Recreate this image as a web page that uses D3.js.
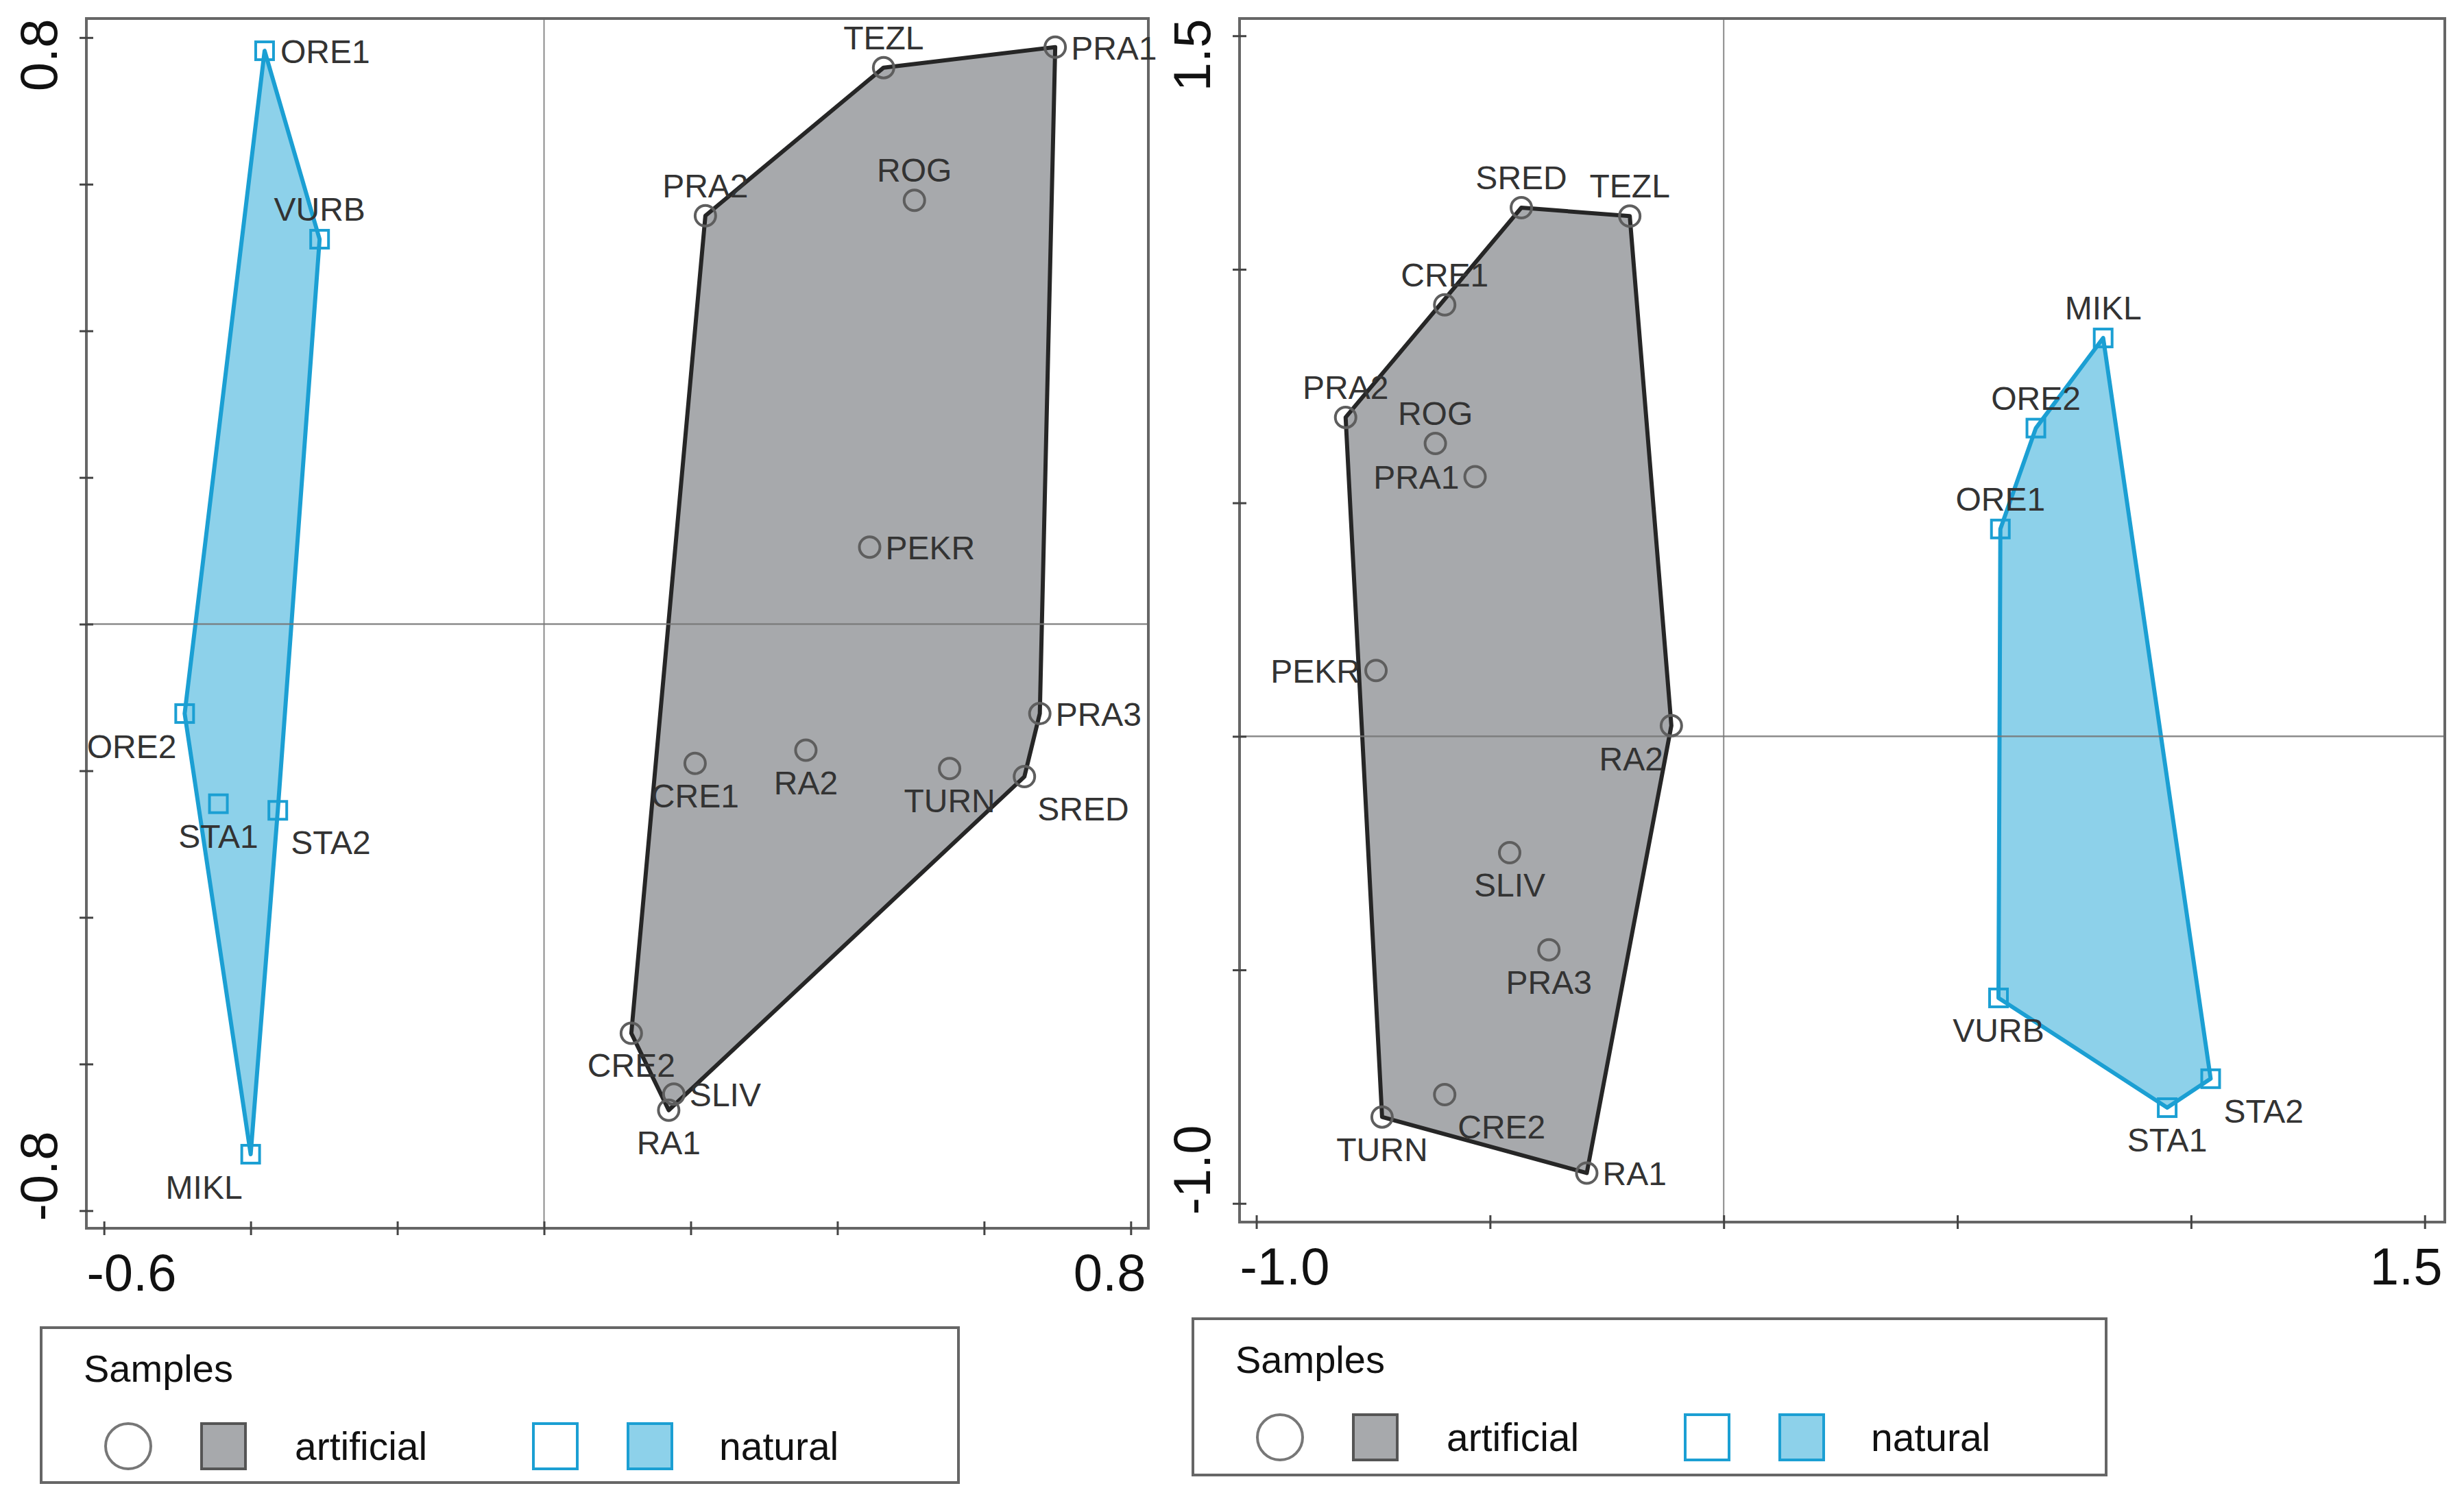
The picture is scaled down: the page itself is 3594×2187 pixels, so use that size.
<!DOCTYPE html>
<html>
<head>
<meta charset="utf-8">
<script src="https://cdn.jsdelivr.net/npm/d3@7"></script>
<style>
  body { margin: 0; background: #fff; }
  text { font-family: "Liberation Sans", Arial, sans-serif; }
</style>
</head>
<body>
<svg id="chart" width="3594" height="2187"></svg>
<script>
// left ordination (axis 1 x axis 2)
var leftArtNames = ["TEZL","PRA1","PRA2","ROG","PEKR","PRA3","CRE1","RA2","TURN","SRED","CRE2","SLIV","RA1"];
var leftArtX = [0.463, 0.697, 0.220, 0.505, 0.444, 0.676, 0.206, 0.357, 0.553, 0.655, 0.119, 0.177, 0.170];
var leftArtY = [0.759, 0.787, 0.557, 0.578, 0.105, -0.122, -0.190, -0.172, -0.197, -0.208, -0.558, -0.641, -0.663];
var leftArtPlace = ["t","r","t","t","r","r","b","b","b","br","b","r","b"];

var leftNatNames = ["ORE1","VURB","ORE2","STA1","STA2","MIKL"];
var leftNatX = [-0.381, -0.306, -0.490, -0.444, -0.363, -0.400];
var leftNatY = [0.782, 0.525, -0.122, -0.245, -0.254, -0.723];
var leftNatPlace = ["r","t","bl","b","br","bl"];

// right ordination
var rightArtNames = ["SRED","TEZL","CRE1","PRA2","ROG","PRA1","PEKR","RA2","SLIV","PRA3","CRE2","TURN","RA1"];
var rightArtX = [-0.433, -0.201, -0.597, -0.809, -0.617, -0.532, -0.744, -0.112, -0.458, -0.374, -0.597, -0.731, -0.293];
var rightArtY = [1.132, 1.114, 0.924, 0.683, 0.627, 0.556, 0.141, 0.023, -0.249, -0.457, -0.767, -0.815, -0.935];
var rightArtPlace = ["t","t","t","t","t","l","l","bl","b","b","br","b","r"];

var rightNatNames = ["MIKL","ORE2","ORE1","VURB","STA1","STA2"];
var rightNatX = [0.812, 0.668, 0.592, 0.588, 0.949, 1.042];
var rightNatY = [0.853, 0.660, 0.444, -0.560, -0.795, -0.733];
var rightNatPlace = ["t","t","t","b","b","br"];

var leftXTicks = [-0.6, -0.4, -0.2, 0, 0.2, 0.4, 0.6, 0.8];
var leftYTicks = [-0.8, -0.6, -0.4, -0.2, 0, 0.2, 0.4, 0.6, 0.8];
var rightXTicks = [-1.0, -0.5, 0, 0.5, 1.0, 1.5];
var rightYTicks = [-1.0, -0.5, 0, 0.5, 1.0, 1.5];

var legendTitle = "Samples";
var groupNames = ["artificial", "natural"];

var grayFill = "#a7a9ac", grayLine = "#262626", ringColor = "#5e5e5e";
var blueFill = "#8dd1ea", blueLine = "#1b9fd3";
var frameColor = "#666";

var svg = d3.select("#chart");

function placeLabel(t, px, py, code) {
    if (code == "t") t.attr("x", px).attr("y", py - 27).attr("text-anchor", "middle");
    if (code == "b") t.attr("x", px).attr("y", py + 64).attr("text-anchor", "middle");
    if (code == "r") t.attr("x", px + 23).attr("y", py + 18).attr("text-anchor", "start");
    if (code == "l") t.attr("x", px - 23).attr("y", py + 18).attr("text-anchor", "end");
    if (code == "br") t.attr("x", px + 19).attr("y", py + 64).attr("text-anchor", "start");
    if (code == "bl") t.attr("x", px - 12).attr("y", py + 65).attr("text-anchor", "end");
}

function drawPanel(p) {
    var x = d3.scaleLinear().domain(p.xDomain).range([p.left, p.right]);
    var y = d3.scaleLinear().domain(p.yDomain).range([p.bottom, p.top]);
    var g = svg.append("g");

    var groups = [
        {names: p.artNames, xs: p.artX, ys: p.artY, place: p.artPlace, fill: grayFill, line: grayLine},
        {names: p.natNames, xs: p.natX, ys: p.natY, place: p.natPlace, fill: blueFill, line: blueLine}
    ];

    // envelopes
    groups.forEach(function(gr){
        var pts = gr.names.map(function(n, i){ return [x(gr.xs[i]), y(gr.ys[i])]; });
        var hull = d3.polygonHull(pts);
        g.append("path")
            .attr("d", "M" + hull.join("L") + "Z")
            .attr("fill", gr.fill)
            .attr("stroke", gr.line)
            .attr("stroke-width", 6)
            .attr("stroke-linejoin", "round");
    });

    // zero lines
    g.append("line")
        .attr("x1", x(0)).attr("x2", x(0))
        .attr("y1", p.top).attr("y2", p.bottom)
        .attr("stroke", "#777").attr("stroke-width", 2).attr("stroke-opacity", 0.85);
    g.append("line")
        .attr("x1", p.left).attr("x2", p.right)
        .attr("y1", y(0)).attr("y2", y(0))
        .attr("stroke", "#777").attr("stroke-width", 2.5).attr("stroke-opacity", 0.85);

    g.append("rect")
        .attr("x", p.left).attr("y", p.top)
        .attr("width", p.right - p.left).attr("height", p.bottom - p.top)
        .attr("fill", "none").attr("stroke", frameColor).attr("stroke-width", 4);

    var xt = p.xTicks, yt = p.yTicks;
    var fmt = function(d){ return d.toFixed(1); };

    var xAxis = g.append("g")
        .attr("transform", "translate(0," + p.bottom + ")")
        .call(d3.axisBottom(x).tickValues(xt).tickSize(10).tickSizeOuter(0)
            .tickFormat(function(d, i){ return (i == 0 || i == xt.length - 1) ? fmt(d) : ""; }));
    xAxis.select(".domain").remove();
    xAxis.selectAll("line").attr("y1", -10).attr("stroke", "#444").attr("stroke-width", 3);
    xAxis.selectAll("text")
        .attr("y", 91).attr("dy", null)
        .attr("font-size", 76).attr("fill", "#111")
        .attr("font-family", "Liberation Sans, Arial, sans-serif")
        .attr("text-anchor", function(d, i){ return i == 0 ? "start" : "end"; })
        .attr("x", function(d, i){
            return i == 0 ? p.left - x(d) : p.right - 4 - x(d);
        });

    var yAxis = g.append("g")
        .attr("transform", "translate(" + p.left + ",0)")
        .call(d3.axisLeft(y).tickValues(yt).tickSize(10).tickSizeOuter(0)
            .tickFormat(function(d, i){ return (i == 0 || i == yt.length - 1) ? fmt(d) : ""; }));
    yAxis.select(".domain").remove();
    yAxis.selectAll("line").attr("x1", 10).attr("stroke", "#444").attr("stroke-width", 3);
    yAxis.selectAll("text")
        .attr("transform", "rotate(-90)")
        .attr("dy", null)
        .attr("y", -43)
        .attr("font-size", 76).attr("fill", "#111")
        .attr("font-family", "Liberation Sans, Arial, sans-serif")
        .attr("text-anchor", function(d, i){ return i == 0 ? "start" : "end"; })
        .attr("x", function(d, i){
            return i == 0 ? y(d) - (p.bottom - 11) : y(d) - p.top;
        });

    // sample markers
    groups.forEach(function(gr, k){
        gr.names.forEach(function(n, i){
            var px = x(gr.xs[i]), py = y(gr.ys[i]);
            if (k == 0) {
                g.append("circle").attr("cx", px).attr("cy", py).attr("r", 15)
                    .attr("fill", "none").attr("stroke", ringColor).attr("stroke-width", 4);
            } else {
                g.append("rect").attr("x", px - 13).attr("y", py - 13)
                    .attr("width", 26).attr("height", 26)
                    .attr("fill", "none").attr("stroke", blueLine).attr("stroke-width", 4);
            }
        });
    });

    // sample names
    groups.forEach(function(gr){
        gr.names.forEach(function(n, i){
            var t = g.append("text").text(n)
                .attr("font-size", 48).attr("fill", "#333");
            placeLabel(t, x(gr.xs[i]), y(gr.ys[i]), gr.place[i]);
        });
    });
}

function drawLegend(lx, ly, w, h) {
    var g = svg.append("g").attr("transform", "translate(" + lx + "," + ly + ")");
    g.append("rect").attr("width", w).attr("height", h)
        .attr("fill", "#fff").attr("stroke", frameColor).attr("stroke-width", 4);
    g.append("text").attr("x", 62).attr("y", 79).text(legendTitle)
        .attr("font-size", 56).attr("fill", "#111");
    g.append("circle").attr("cx", 127).attr("cy", 173).attr("r", 33)
        .attr("fill", "#fff").attr("stroke", "#777").attr("stroke-width", 4);
    g.append("rect").attr("x", 234).attr("y", 140).attr("width", 64).attr("height", 66)
        .attr("fill", grayFill).attr("stroke", "#555").attr("stroke-width", 4);
    g.append("text").attr("x", 370).attr("y", 193).text(groupNames[0])
        .attr("font-size", 57).attr("fill", "#111");
    g.append("rect").attr("x", 718).attr("y", 140).attr("width", 64).attr("height", 66)
        .attr("fill", "#fff").attr("stroke", blueLine).attr("stroke-width", 4);
    g.append("rect").attr("x", 856).attr("y", 140).attr("width", 64).attr("height", 66)
        .attr("fill", blueFill).attr("stroke", blueLine).attr("stroke-width", 4);
    g.append("text").attr("x", 989).attr("y", 193).text(groupNames[1])
        .attr("font-size", 57).attr("fill", "#111");
}

drawPanel({
    left: 126, right: 1675, top: 27, bottom: 1792,
    xDomain: [-0.624, 0.824], yDomain: [-0.824, 0.826],
    xTicks: leftXTicks, yTicks: leftYTicks,
    artNames: leftArtNames, artX: leftArtX, artY: leftArtY, artPlace: leftArtPlace,
    natNames: leftNatNames, natX: leftNatX, natY: leftNatY, natPlace: leftNatPlace
});

drawPanel({
    left: 1808, right: 3566, top: 27, bottom: 1783,
    xDomain: [-1.036, 1.543], yDomain: [-1.040, 1.537],
    xTicks: rightXTicks, yTicks: rightYTicks,
    artNames: rightArtNames, artX: rightArtX, artY: rightArtY, artPlace: rightArtPlace,
    natNames: rightNatNames, natX: rightNatX, natY: rightNatY, natPlace: rightNatPlace
});

drawLegend(60, 1937, 1338, 226);
drawLegend(1740, 1924, 1332, 228);
</script>
</body>
</html>
